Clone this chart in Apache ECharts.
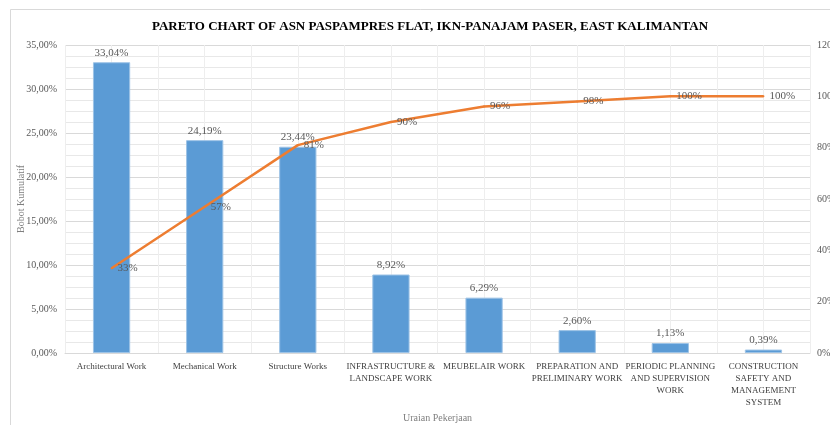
<!DOCTYPE html>
<html>
<head>
<meta charset="utf-8">
<script src="https://cdn.jsdelivr.net/npm/echarts@6/dist/echarts.min.js"></script>
<style>
html,body{margin:0;padding:0;background:#fff;}
#chart{width:830px;height:425px;}
</style>
</head>
<body>
<div id="chart"></div>
<script>
const categories = [
  "Architectural Work",
  "Mechanical Work",
  "Structure Works",
  "INFRASTRUCTURE &\nLANDSCAPE WORK",
  "MEUBELAIR WORK",
  "PREPARATION AND\nPRELIMINARY WORK",
  "PERIODIC PLANNING\nAND SUPERVISION\nWORK",
  "CONSTRUCTION\nSAFETY AND\nMANAGEMENT\nSYSTEM"
];
const weights = [33.04, 24.19, 23.44, 8.92, 6.29, 2.60, 1.13, 0.39];
const cumulative = [33, 57, 81, 90, 96, 98, 100, 100];
const leftTicks = [0, 5, 10, 15, 20, 25, 30, 35];
const rightTicks = [0, 20, 40, 60, 80, 100, 120];

const FONT = '"Liberation Serif", "Times New Roman", serif';
const chart = echarts.init(document.getElementById('chart'));
chart.setOption({
  animation: false,
  backgroundColor: '#fff',
  textStyle: { fontFamily: FONT },
  graphic: [{
    type: 'rect', silent: true,
    shape: { x: 10.5, y: 9.5, width: 830, height: 430 },
    style: { fill: 'none', stroke: '#d9d9d9', lineWidth: 1 }
  }],
  title: {
    text: 'PARETO CHART OF ASN PASPAMPRES FLAT, IKN-PANAJAM PASER, EAST KALIMANTAN',
    left: 425, top: 15, textAlign: 'center',
    textStyle: { fontFamily: FONT, fontWeight: 'bold', fontSize: 13, color: '#000' }
  },
  grid: { left: 65, right: 20, top: 45, bottom: 72, containLabel: false, outerBoundsMode: 'none' },
  xAxis: [{
    type: 'category', data: categories,
    axisLine: { show: true, lineStyle: { color: '#d9d9d9' } },
    axisTick: { show: false },
    splitLine: { show: true, lineStyle: { color: '#eeeeee' } },
    axisLabel: { interval: 0, color: '#404040', fontSize: 9, fontFamily: FONT, lineHeight: 12, margin: 8 },
    name: 'Uraian Pekerjaan', nameLocation: 'middle', nameGap: 60, nameMoveOverlap: false,
    nameTextStyle: { color: '#7f7f7f', fontSize: 10, fontFamily: FONT }
  }, {
    type: 'value', min: 0, max: 16, interval: 1, position: 'bottom',
    axisLine: { show: false }, axisTick: { show: false }, axisLabel: { show: false },
    splitLine: { show: true, lineStyle: { color: '#eeeeee' } }
  }],
  yAxis: [{
    type: 'value', min: 0, max: 35, interval: 5,
    axisLine: { show: false }, axisTick: { show: false },
    axisLabel: { color: '#595959', fontSize: 10, fontFamily: FONT, margin: 8,
      formatter: v => v.toFixed(2).replace('.', ',') + '%' },
    splitLine: { show: true, lineStyle: { color: '#d9d9d9' } },
    minorTick: { show: false, splitNumber: 4 },
    minorSplitLine: { show: true, lineStyle: { color: '#e8e8e8' } },
    name: 'Bobot Kumulatif', nameLocation: 'middle', nameGap: 39, nameMoveOverlap: false,
    nameTextStyle: { color: '#7f7f7f', fontSize: 10, fontFamily: FONT }
  }, {
    type: 'value', min: 0, max: 120, interval: 20, position: 'right',
    axisLine: { show: false }, axisTick: { show: false },
    axisLabel: { color: '#595959', fontSize: 10, fontFamily: FONT, margin: 7,
      formatter: v => v + '%' },
    splitLine: { show: false }
  }],
  series: [{
    type: 'bar', data: weights, xAxisIndex: 0, yAxisIndex: 0,
    barWidth: '40%',
    itemStyle: { color: '#5B9BD5', borderColor: '#9dc3e6', borderWidth: 1 },
    label: { show: true, position: 'top', distance: 4, color: '#595959', fontSize: 11, fontFamily: FONT,
      formatter: p => p.value.toFixed(2).replace('.', ',') + '%' }
  }, {
    type: 'line', data: cumulative, xAxisIndex: 0, yAxisIndex: 1,
    showSymbol: true, showAllSymbol: true, symbol: 'circle', symbolSize: 2,
    lineStyle: { color: '#ED7D31', width: 2.5 },
    itemStyle: { color: '#ED7D31' },
    label: { show: true, position: 'right', distance: 5, offset: [0, 4], color: '#595959', fontSize: 11, fontFamily: FONT,
      formatter: p => p.value + '%' },
    labelLayout: { hideOverlap: false },
    z: 5
  }]
});
</script>
</body>
</html>
